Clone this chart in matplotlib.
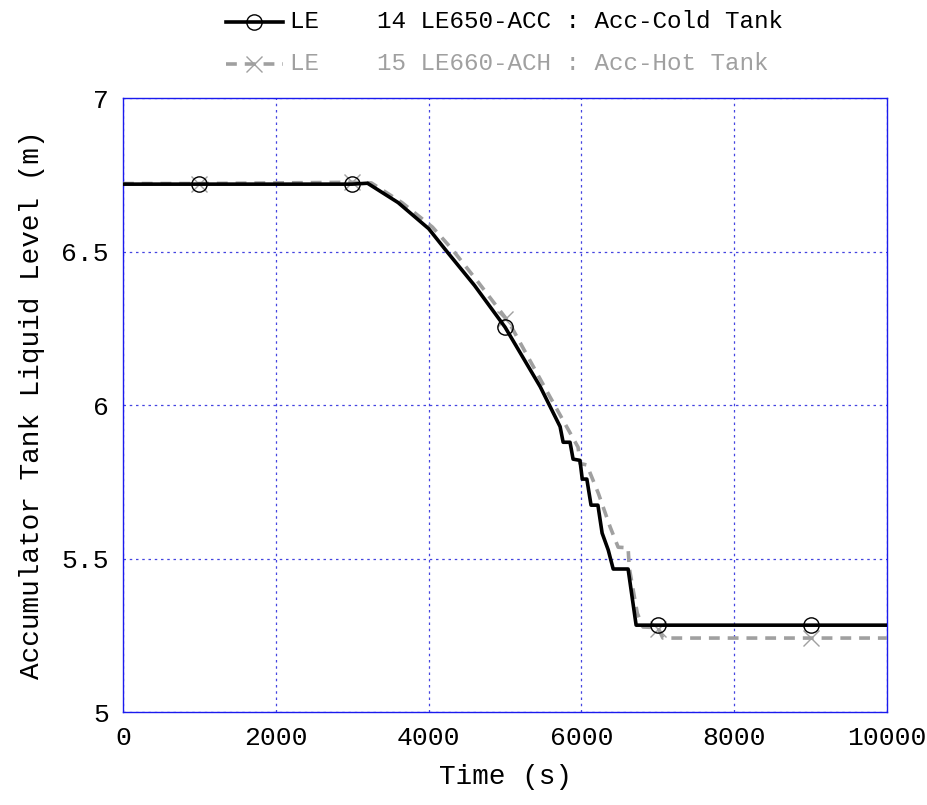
import matplotlib

matplotlib.use('Agg')
import matplotlib.pyplot as plt

plt.rcParams['font.family'] = ['Liberation Mono', 'Noto Sans CJK JP', 'DejaVu Sans']

# LE650-ACC : Acc-Cold Tank (black, solid)
cold_t = [0, 1000, 2000, 3000, 3200, 3600, 4000, 4240, 4600, 5000, 5460,
          5720, 5760, 5850, 5890, 5980, 6010, 6070, 6125, 6215, 6270, 6350,
          6415, 6610, 6715, 7000, 8000, 9000, 10000]
cold_lv = [6.72, 6.72, 6.72, 6.72, 6.723, 6.66, 6.575, 6.50, 6.39, 6.254, 6.06,
           5.93, 5.879, 5.879, 5.824, 5.82, 5.759, 5.759, 5.674, 5.674, 5.583, 5.528,
           5.466, 5.466, 5.283, 5.283, 5.283, 5.283, 5.283]
cold_mark_t = [1000, 3000, 5000, 7000, 9000]
cold_mark_lv = [6.72, 6.72, 6.254, 5.283, 5.283]

# LE660-ACH : Acc-Hot Tank (gray, dashed)
hot_t = [0, 1000, 2000, 3000, 3250, 3650, 4050, 4300, 4650, 5050, 5590,
         5955, 5980, 6070, 6220, 6375, 6480, 6610, 6625, 6730, 6805, 7000,
         7065, 8000, 9000, 10000]
hot_lv = [6.722, 6.722, 6.724, 6.726, 6.724, 6.66, 6.58, 6.51, 6.40, 6.27, 6.026,
          5.863, 5.81, 5.805, 5.713, 5.603, 5.537, 5.535, 5.47, 5.322, 5.277, 5.275,
          5.241, 5.241, 5.241, 5.241]
hot_mark_t = [1000, 3000, 5000, 7000, 9000]
hot_mark_lv = [6.722, 6.726, 6.28, 5.27, 5.241]

x_ticks = [0, 2000, 4000, 6000, 8000, 10000]
y_ticks = [5, 5.5, 6, 6.5, 7]
y_tick_labels = ['5', '5.5', '6', '6.5', '7']

GRID_COLOR = '#4444e0'
GRAY = '#a0a0a0'

fig = plt.figure(figsize=(9.28, 8.05), dpi=100)
ax = fig.add_axes([0.1325, 0.1155, 0.8235, 0.7625])

ax.plot(hot_t, hot_lv, color=GRAY, lw=2.6, ls=(0, (3, 2.2)), zorder=3)
ax.plot(hot_mark_t, hot_mark_lv, ls='none', marker='x', ms=11, mew=1.0,
        color=GRAY, zorder=4)
ax.plot(cold_t, cold_lv, color='black', lw=2.6, zorder=5)
ax.plot(cold_mark_t, cold_mark_lv, ls='none', marker='o', ms=11, mfc='none',
        mec='black', mew=1.0, zorder=6)

ax.set_xlim(0, 10000)
ax.set_ylim(5, 7)
ax.set_xticks(x_ticks)
ax.set_yticks(y_ticks)
ax.set_yticklabels(y_tick_labels)
ax.tick_params(length=0, labelsize=19, pad=10)
ax.grid(True, color=GRID_COLOR, ls=(0, (2, 3)), lw=0.9)
for sp in ax.spines.values():
    sp.set_color('#1a1aee')
    sp.set_linewidth(1.0)

ax.set_xlabel('Time (s)', fontsize=20, labelpad=10)
ax.set_ylabel('Accumulator Tank Liquid Level (m)', fontsize=20, labelpad=12)

# legend drawn above the axes
fig.lines.append(plt.Line2D([0.243, 0.305], [0.973, 0.973], color='black', lw=2.6,
                            transform=fig.transFigure))
fig.lines.append(plt.Line2D([0.274], [0.973], ls='none', marker='o', ms=11,
                            mfc='none', mec='black', mew=1.0, transform=fig.transFigure))
fig.lines.append(plt.Line2D([0.243, 0.305], [0.921, 0.921], color=GRAY, lw=2.6,
                            ls=(0, (3, 2.2)), transform=fig.transFigure))
fig.lines.append(plt.Line2D([0.274], [0.921], ls='none', marker='x', ms=11,
                            mec=GRAY, mew=1.0, transform=fig.transFigure))
fig.text(0.312, 0.973, 'LE    14 LE650-ACC : Acc-Cold Tank', fontsize=17.5,
         va='center', ha='left', color='black')
fig.text(0.312, 0.921, 'LE    15 LE660-ACH : Acc-Hot Tank', fontsize=17.5,
         va='center', ha='left', color=GRAY)

fig.savefig('out.png', dpi=100)
